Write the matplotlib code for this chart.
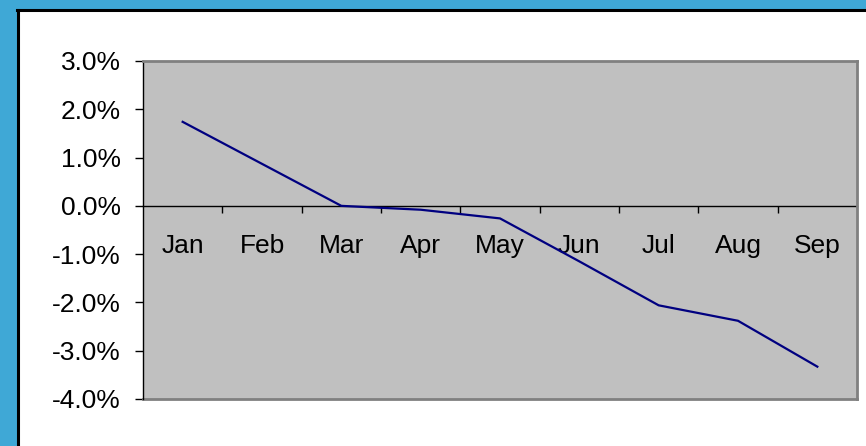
import matplotlib.pyplot as plt
from matplotlib.patches import Rectangle
from matplotlib.ticker import FixedLocator

plt.rcParams['font.family'] = ['Liberation Sans', 'DejaVu Sans']

# Monthly values, percent
months = ["Jan", "Feb", "Mar", "Apr", "May", "Jun", "Jul", "Aug", "Sep"]
values = [1.74, 0.87, 0.0, -0.08, -0.26, -1.15, -2.06, -2.38, -3.33]
y_ticks = [-4, -3, -2, -1, 0, 1, 2, 3]

W, H = 866, 446
fig = plt.figure(figsize=(W / 100, H / 100), dpi=100, facecolor="#3FA8D6")

# white panel with black edge on left/top
fig.patches.append(Rectangle((17 / W, 0), 1 - 17 / W, (H - 10) / H,
                             transform=fig.transFigure, facecolor="white",
                             edgecolor="none", zorder=-2))
fig.add_artist(plt.Line2D([18 / W, 18 / W], [0, (H - 10) / H], color="black",
                          lw=2.2, transform=fig.transFigure, zorder=-1))
fig.add_artist(plt.Line2D([17 / W, 1], [(H - 10) / H, (H - 10) / H], color="black",
                          lw=2.2, transform=fig.transFigure, zorder=-1))

ax = fig.add_axes([143 / W, 47 / H, 714 / W, 338 / H])
ax.set_zorder(1)
ax.set_facecolor("#C0C0C0")

x = list(range(len(months)))
ax.plot(x, values, color="#000080", lw=1.6, zorder=3)

ax.set_xlim(-0.5, len(months) - 0.5)
ax.set_ylim(-4, 3)
ax.set_yticks(y_ticks)
ax.set_yticklabels([f"{v:.1f}%" for v in y_ticks])
ax.tick_params(axis="y", length=6, width=1, pad=10, labelsize=19, colors="black")

# category axis crosses at zero
ax.spines["bottom"].set_position(("data", 0))
ax.spines["bottom"].set_color("black")
ax.spines["bottom"].set_linewidth(1)
ax.spines["bottom"].set_zorder(2)
ax.set_xticks(x)
ax.set_xticklabels(months)
ax.xaxis.set_minor_locator(FixedLocator([i + 0.5 for i in x[:-1]]))
ax.tick_params(axis="x", which="major", length=0, pad=20, labelsize=19)
ax.tick_params(axis="x", which="minor", length=5, width=1, direction="out")
for lbl in ax.get_xticklabels():
    lbl.set_zorder(1)

ax.spines["left"].set_color("black")
ax.spines["left"].set_linewidth(1)
for s in ["top", "right"]:
    ax.spines[s].set_color("#808080")
    ax.spines[s].set_linewidth(2)
ax.plot([0, 1], [0, 0], transform=ax.transAxes, color="#808080", lw=2,
        clip_on=False, zorder=2)

fig.savefig("out.png", dpi=100, facecolor=fig.get_facecolor())
